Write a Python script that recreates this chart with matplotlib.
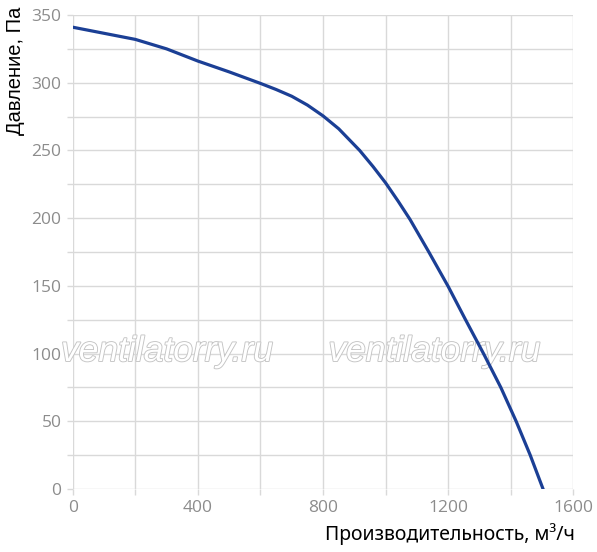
import matplotlib
matplotlib.use('Agg')
import matplotlib.pyplot as plt
import matplotlib.patheffects as pe
from matplotlib.ticker import MultipleLocator

# fan curve
flow = [0, 100, 200, 300, 400, 500, 600, 650, 700, 750, 800, 850, 917, 960, 1000, 1040,
        1078, 1138, 1200, 1253, 1315, 1368, 1417, 1462, 1503]
pressure = [341, 336.5, 332, 325, 316, 308, 299.5, 295, 290, 283.5, 275.5, 266, 250, 238, 226, 212.5,
            199, 175, 149.5, 126, 99, 75, 50, 25, 0]

x_ticks = [0, 400, 800, 1200, 1600]
y_ticks = [0, 50, 100, 150, 200, 250, 300, 350]
watermark = 'ventilatorry.ru'

fig = plt.figure(figsize=(5.97, 5.52), dpi=100)
ax = fig.add_axes([0.1218, 0.1141, 0.8387, 0.8587])

ax.plot(flow, pressure, color='#1b3f95', linewidth=2.3, solid_joinstyle='round', zorder=4)

ax.set_xlim(0, 1600)
ax.set_ylim(0, 350)
ax.set_xticks(x_ticks)
ax.set_yticks(y_ticks)
ax.xaxis.set_minor_locator(MultipleLocator(200))
ax.yaxis.set_minor_locator(MultipleLocator(25))
ax.grid(True, which='both', color='#d9d9d9', linewidth=1.0, zorder=1)
ax.set_axisbelow(True)
for s in ax.spines.values():
    s.set_visible(False)

ax.tick_params(which='both', length=4, width=1.0, color='#d9d9d9',
               labelcolor='#8c8c8c', labelsize=12.5, pad=4)
for lab in ax.get_xticklabels() + ax.get_yticklabels():
    lab.set_family('Open Sans')

# watermark
for xp in [0.188, 0.722]:
    ax.text(xp, 0.29, watermark, transform=ax.transAxes, ha='center', va='center',
            fontsize=25.5, style='italic', family='Liberation Sans', color='white',
            path_effects=[pe.withStroke(linewidth=1.3, foreground='#c4c4c4')], zorder=3)

fig.text(0.026, 0.872, 'Давление, Па', rotation=90, ha='center', va='center',
         fontsize=14.5, family='Liberation Sans', color='black')
fig.text(0.963, 0.032, 'Производительность, м³/ч', ha='right', va='center',
         fontsize=14, family='Noto Sans', color='black')

fig.savefig('out.png', dpi=100)
